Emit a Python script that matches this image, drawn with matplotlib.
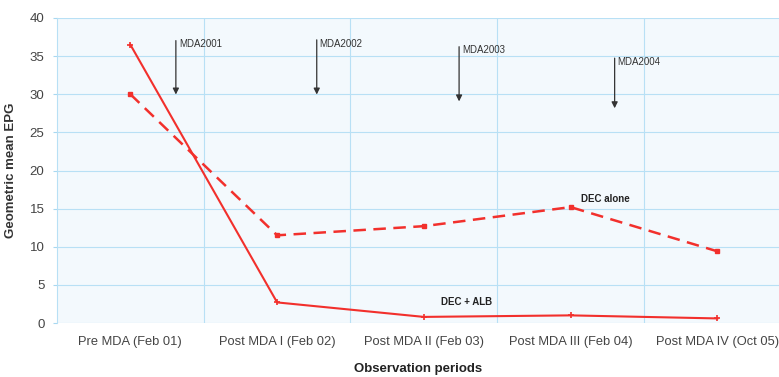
import matplotlib
matplotlib.use("Agg")
import matplotlib.pyplot as plt

plt.rcParams['font.family'] = ['Liberation Sans', 'DejaVu Sans']

categories = ["Pre MDA (Feb 01)", "Post MDA I (Feb 02)", "Post MDA II (Feb 03)",
              "Post MDA III (Feb 04)", "Post MDA IV (Oct 05)"]
dec_alb = [36.5, 2.7, 0.8, 1.0, 0.6]
dec_alone = [30.0, 11.5, 12.7, 15.2, 9.4]
mda_labels = ["MDA2001", "MDA2002", "MDA2003", "MDA2004"]
mda_x = [0.31, 1.27, 2.24, 3.30]
mda_top = [37.4, 37.5, 36.6, 35.1]
mda_tip = [29.6, 29.6, 28.7, 27.8]
yticks = [0, 5, 10, 15, 20, 25, 30, 35, 40]

fig = plt.figure(figsize=(7.79, 3.77), dpi=100)
ax = fig.add_axes([57/779, 54/377, 1 - 57/779, (323-18)/377])
ax.set_facecolor('#f3f9fd')

x = list(range(len(categories)))
red = '#f2302c'
ax.plot(x, dec_alb, color=red, lw=1.5, marker='+', ms=4, mew=1.2, zorder=3)
ax.plot(x, dec_alone, color=red, lw=1.8, ls=(0, (5, 3)), marker='s', ms=3.5, zorder=3)

ax.set_xlim(-0.5, 4.42)
ax.set_ylim(0, 40)
ax.set_yticks(yticks)
ax.set_xticks(x)
ax.set_xticklabels(categories, color='#444444', fontsize=9.3)
ax.set_xticks([0.5, 1.5, 2.5, 3.5], minor=True)
ax.tick_params(axis='x', which='both', length=0, pad=9)
ax.tick_params(axis='y', length=3, color='#a8d8f0', labelcolor='#444444', labelsize=9.5, pad=6)
ax.grid(axis='y', color='#b8e0f5', lw=0.8)
ax.grid(axis='x', which='minor', color='#b8e0f5', lw=0.8)
for s in ['top', 'right', 'bottom']:
    ax.spines[s].set_visible(False)
ax.spines['left'].set_color('#b8e0f5')

ax.set_ylabel("Geometric mean EPG", fontsize=9.5, fontweight='bold', color='#333333', labelpad=9)
ax.set_xlabel("Observation periods", fontsize=9.5, fontweight='bold', color='#222222', labelpad=11)

for lx, top, tip, lab in zip(mda_x, mda_top, mda_tip, mda_labels):
    ax.annotate("", xy=(lx, tip), xytext=(lx, top),
                arrowprops=dict(arrowstyle='-|>', color='#333333', lw=0.9, mutation_scale=9))
    ax.text(lx + 0.02, top - 0.2, lab, fontsize=7, color='#333333', va='top', ha='left')

ax.text(3.07, 16.3, "DEC alone", fontsize=7, fontweight='bold', color='#222222', ha='left', va='center')
ax.text(2.12, 2.7, "DEC + ALB", fontsize=7, fontweight='bold', color='#222222', ha='left', va='center')

fig.savefig("out.png", dpi=100)
